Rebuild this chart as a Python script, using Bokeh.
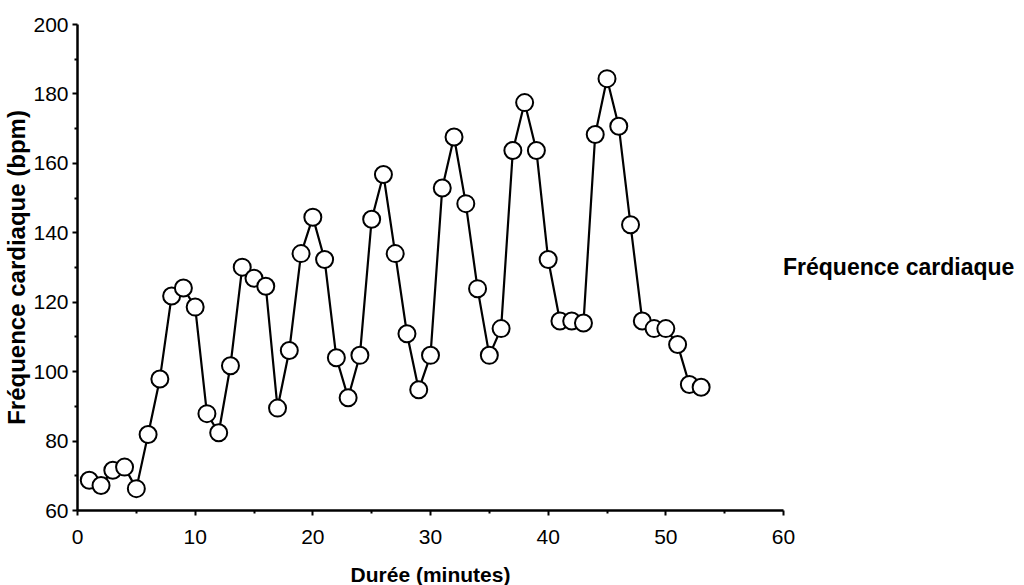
from bokeh.plotting import figure
from bokeh.models import Range1d, FixedTicker, ColumnDataSource, Legend, LegendItem
from bokeh.embed import file_html
from bokeh.resources import INLINE

# Durée (minutes)
minutes = list(range(1, 54))
# Fréquence cardiaque (bpm)
bpm = [68.7, 67.2, 71.6, 72.5, 66.3, 81.9, 97.9, 121.8, 124.1, 118.6,
       87.9, 82.4, 101.7, 130.1, 126.9, 124.6, 89.5, 106.1, 134.0, 144.5,
       132.3, 104.0, 92.5, 104.7, 143.9, 156.8, 134.0, 110.9, 94.8, 104.7,
       152.9, 167.6, 148.4, 123.9, 104.7, 112.4, 163.7, 177.5, 163.7, 132.3,
       114.6, 114.6, 114.0, 168.3, 184.4, 170.7, 142.3, 114.6, 112.4, 112.4,
       107.8, 96.3, 95.5]
x_ticks = [0, 10, 20, 30, 40, 50, 60]
y_ticks = [60, 80, 100, 120, 140, 160, 180, 200]
series_name = "Fréquence cardiaque"
x_title = "Durée (minutes)"
y_title = "Fréquence cardiaque (bpm)"

FONT = "Liberation Sans"

src = ColumnDataSource(dict(x=minutes, y=bpm))

p = figure(frame_width=706, frame_height=486, output_backend="svg",
           toolbar_location=None,
           x_range=Range1d(0, 60), y_range=Range1d(60, 200),
           min_border_left=77, min_border_top=24, min_border_right=0,
           min_border_bottom=75)
p.outline_line_color = None
p.grid.visible = False
p.background_fill_color = "white"
p.border_fill_color = "white"

p.line("x", "y", source=src, line_color="black", line_width=2.2)
p.scatter("x", "y", source=src, marker="circle", size=17, fill_color="white",
          line_color="black", line_width=2)

# invisible renderer only used to carry the legend entry text
dummy = p.scatter("x", "y", source=src, marker="circle", size=0,
                  fill_alpha=0, line_alpha=0)

for ax in (p.xaxis[0], p.yaxis[0]):
    ax.axis_line_width = 2.5
    ax.axis_line_color = "black"
    ax.major_tick_line_width = 2
    ax.minor_tick_line_width = 2
    ax.major_tick_out = 5
    ax.major_tick_in = 0
    ax.minor_tick_out = 3
    ax.minor_tick_in = 0
    ax.major_label_text_font = FONT
    ax.major_label_text_font_size = "21px"
    ax.major_label_text_color = "black"
    ax.axis_label_text_font = FONT
    ax.axis_label_text_font_style = "bold"
    ax.axis_label_text_color = "black"

p.xaxis.ticker = FixedTicker(ticks=x_ticks, minor_ticks=[5, 15, 25, 35, 45, 55])
p.yaxis.ticker = FixedTicker(ticks=y_ticks, minor_ticks=[70, 90, 110, 130, 150, 170, 190])
p.xaxis.major_label_standoff = 14
p.yaxis.major_label_standoff = 4

p.xaxis.axis_label = x_title
p.xaxis.axis_label_text_font_size = "21px"
p.xaxis.axis_label_standoff = 16

p.yaxis.axis_label = y_title
p.yaxis.axis_label_text_font_size = "24px"
p.yaxis.axis_label_standoff = 0

legend = Legend(items=[LegendItem(label=series_name, renderers=[dummy])],
                location="left", orientation="vertical",
                glyph_width=0, glyph_height=20, label_standoff=0,
                padding=0, margin=0, spacing=0,
                border_line_color=None, background_fill_alpha=0,
                label_text_font=FONT, label_text_font_style="bold",
                label_text_font_size="23px", label_text_color="black")
p.add_layout(legend, "right")

open("out.html", "w").write(file_html(p, INLINE))
